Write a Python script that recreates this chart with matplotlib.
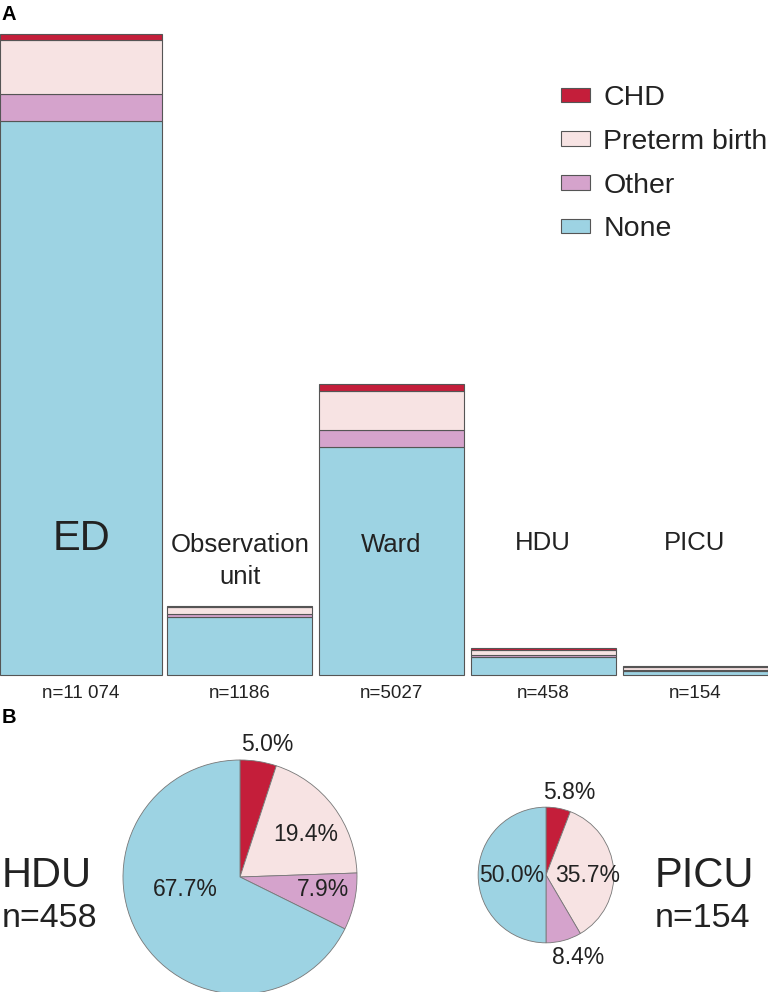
import numpy as np
import matplotlib
matplotlib.use("Agg")
import matplotlib.pyplot as plt
from matplotlib.patches import Patch

plt.rcParams["font.family"] = ["Liberation Sans", "DejaVu Sans"]

# data
units = ["ED", "Observation\nunit", "Ward", "HDU", "PICU"]
groups = ["CHD", "Preterm birth", "Other", "None"]
chd = [104, 17, 121, 23, 9]
preterm = [933, 122, 676, 89, 55]
other = [467, 52, 295, 36, 13]
none = [9570, 995, 3935, 310, 77]
n_labels = ["n=11 074", "n=1186", "n=5027", "n=458", "n=154"]

colors = ["#C41E3A", "#F7E3E3", "#D5A3CC", "#9DD3E3"]
edge = "#555555"
txt = "#222222"

W, H = 768, 992
fig = plt.figure(figsize=(W / 100, H / 100), dpi=100)


def px(x, y):
    return x / W, 1 - y / H


# panel A: stacked bars
lefts = [0, 167, 319, 471, 623]
widths = [162, 145, 145, 145, 145]
totals = [a + b + c + d for a, b, c, d in zip(chd, preterm, other, none)]

ax = fig.add_axes([0, (H - 675) / H, 1, 641 / H])
ax.set_xlim(0, W)
ax.set_ylim(0, max(totals))
ax.axis("off")

bottom = np.zeros(len(units))
for vals, col in zip([none, other, preterm, chd], colors[::-1]):
    ax.bar(lefts, vals, width=widths, bottom=bottom, align="edge",
           color=col, edgecolor=edge, linewidth=0.8, clip_on=False)
    bottom += np.array(vals)

label_pos = [(81, 539, 30), (240, 561, 18.5), (391, 545, 18.5),
             (543, 543, 18.5), (695, 543, 18.5)]
for name, (x, y, fs) in zip(units, label_pos):
    fig.text(*px(x, y), name, ha="center", va="center", fontsize=fs,
             color=txt, linespacing=1.45)

for l, w, lab in zip(lefts, widths, n_labels):
    fig.text(*px(l + w / 2, 694), lab, ha="center", va="center",
             fontsize=13.5, color=txt)

handles = [Patch(facecolor=c, edgecolor=edge, linewidth=0.8) for c in colors]
fig.legend(handles, groups, loc="upper left", bbox_to_anchor=px(561, 85),
           frameon=False, fontsize=20.5, handlelength=1.02, handleheight=0.4,
           handletextpad=0.46, labelspacing=0.625, borderpad=0, borderaxespad=0,
           labelcolor=txt)

fig.text(*px(2, 5), "A", ha="left", va="top", fontsize=14.5, fontweight="bold")
fig.text(*px(2, 708), "B", ha="left", va="top", fontsize=14.5, fontweight="bold")

# panel B: pies, area proportional to n
pie_units = {"HDU": 3, "PICU": 4}
r_hdu = 117
pie_layout = {
    "HDU": dict(cx=240, cy=877,
                lab_xy=[(0.23, 1.13), (0.56, 0.36), (0.71, -0.11), (-0.47, -0.11)],
                name_x=2),
    "PICU": dict(cx=546, cy=875,
                 lab_xy=[(0.35, 1.22), (0.62, 0.0), (0.47, -1.22), (-0.5, 0.0)],
                 name_x=655),
}
for name, idx in pie_units.items():
    vals = np.array([chd[idx], preterm[idx], other[idx], none[idx]])
    r = r_hdu * np.sqrt(totals[idx] / totals[3])
    lay = pie_layout[name]
    pax = fig.add_axes([(lay["cx"] - r) / W, 1 - (lay["cy"] + r) / H,
                        2 * r / W, 2 * r / H])
    pax.pie(vals, colors=colors, startangle=90, counterclock=False,
            wedgeprops=dict(edgecolor="#777777", linewidth=0.6))
    pax.set_xlim(-1, 1)
    pax.set_ylim(-1, 1)
    pax.set_aspect("equal")
    pax.axis("off")
    pct = vals / vals.sum() * 100
    for p, (lx, ly) in zip(pct, lay["lab_xy"]):
        pax.text(lx, ly, f"{p:.1f}%", ha="center", va="center", fontsize=16.5,
                 color=txt, clip_on=False)
    x = lay["name_x"]
    fig.text(*px(x, 887), name, ha="left", va="baseline", fontsize=30,
             color=txt)
    fig.text(*px(x, 927), n_labels[idx], ha="left", va="baseline",
             fontsize=24.5, color=txt)

fig.savefig("out.png", dpi=100)
